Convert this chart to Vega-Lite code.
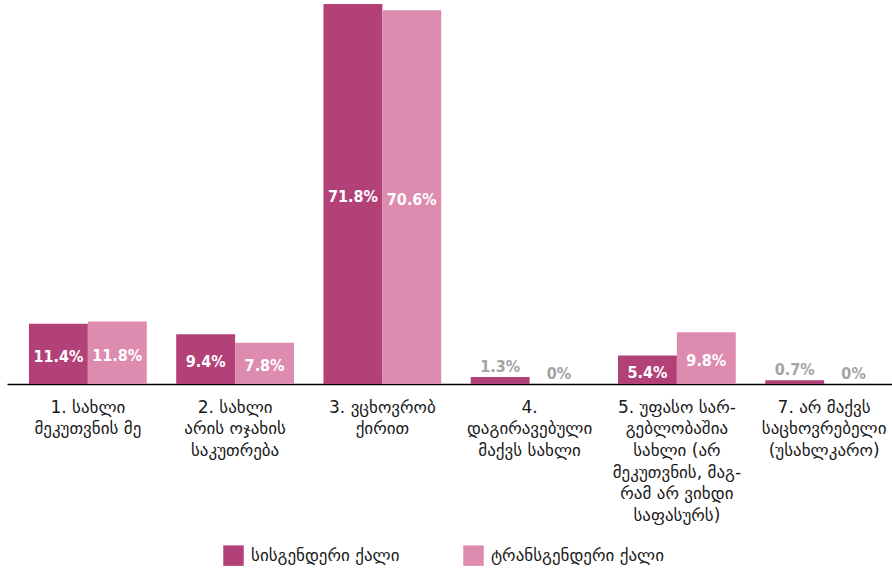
{
  "$schema": "https://vega.github.io/schema/vega-lite/v6.json",
  "width": 885,
  "height": 380,
  "autosize": {"type": "none"},
  "padding": {"left": 7, "top": 4, "right": 0, "bottom": 187},
  "background": "white",
  "config": {"view": {"stroke": null}},
  "data": {
    "values": [
      {"cat": "1. სახლი|მეკუთვნის მე", "group": "სისგენდერი ქალი", "value": 11.4},
      {"cat": "1. სახლი|მეკუთვნის მე", "group": "ტრანსგენდერი ქალი", "value": 11.8},
      {"cat": "2. სახლი|არის ოჯახის|საკუთრება", "group": "სისგენდერი ქალი", "value": 9.4},
      {"cat": "2. სახლი|არის ოჯახის|საკუთრება", "group": "ტრანსგენდერი ქალი", "value": 7.8},
      {"cat": "3. ვცხოვრობ|ქირით", "group": "სისგენდერი ქალი", "value": 71.8},
      {"cat": "3. ვცხოვრობ|ქირით", "group": "ტრანსგენდერი ქალი", "value": 70.6},
      {"cat": "4.|დაგირავებული|მაქვს სახლი", "group": "სისგენდერი ქალი", "value": 1.3},
      {"cat": "4.|დაგირავებული|მაქვს სახლი", "group": "ტრანსგენდერი ქალი", "value": 0},
      {"cat": "5. უფასო სარ-|გებლობაშია|სახლი (არ|მეკუთვნის, მაგ-|რამ არ ვიხდი|საფასურს)", "group": "სისგენდერი ქალი", "value": 5.4},
      {"cat": "5. უფასო სარ-|გებლობაშია|სახლი (არ|მეკუთვნის, მაგ-|რამ არ ვიხდი|საფასურს)", "group": "ტრანსგენდერი ქალი", "value": 9.8},
      {"cat": "7. არ მაქვს|საცხოვრებელი|(უსახლკარო)", "group": "სისგენდერი ქალი", "value": 0.7},
      {"cat": "7. არ მაქვს|საცხოვრებელი|(უსახლკარო)", "group": "ტრანსგენდერი ქალი", "value": 0}
    ]
  },
  "encoding": {
    "x": {
      "field": "cat",
      "type": "nominal",
      "sort": null,
      "scale": {"paddingInner": 0.2, "paddingOuter": 0.105, "align": 0.71},
      "axis": {
        "title": null,
        "labelExpr": "split(datum.label, '|')",
        "labelAngle": 0,
        "labelAlign": "center",
        "labelFont": "DejaVu Sans",
        "labelFontSize": 17,
        "labelColor": "#1a1a1a",
        "labelPadding": 15,
        "labelLineHeight": 21.7,
        "labelLimit": 0,
        "ticks": false,
        "domain": true,
        "domainColor": "#000000",
        "domainWidth": 1.5
      }
    },
    "xOffset": {
      "field": "group",
      "type": "nominal",
      "sort": ["სისგენდერი ქალი", "ტრანსგენდერი ქალი"],
      "scale": {"paddingInner": 0, "paddingOuter": 0}
    }
  },
  "layer": [
    {
      "mark": {"type": "bar"},
      "encoding": {
        "y": {"field": "value", "type": "quantitative", "scale": {"domain": [0, 71.8], "nice": false}, "axis": null},
        "color": {
          "field": "group",
          "type": "nominal",
          "sort": ["სისგენდერი ქალი", "ტრანსგენდერი ქალი"],
          "scale": {"domain": ["სისგენდერი ქალი", "ტრანსგენდერი ქალი"], "range": ["#b24178", "#de8bb0"]},
          "legend": {
            "title": null,
            "orient": "none",
            "direction": "horizontal",
            "legendX": 216,
            "legendY": 541,
            "symbolType": "square",
            "symbolSize": 420,
            "symbolStrokeWidth": 0,
            "symbolOpacity": 1,
            "labelFont": "DejaVu Sans",
            "labelFontSize": 17,
            "labelColor": "#1a1a1a",
            "labelOffset": 7,
            "columnPadding": 63,
            "labelLimit": 0
          }
        }
      }
    },
    {
      "transform": [
        {"filter": "datum.value >= 2"},
        {"calculate": "datum.value / 2", "as": "mid"},
        {"calculate": "datum.value + '%'", "as": "lbl"}
      ],
      "mark": {"type": "text", "color": "white", "font": "'DejaVu Sans Condensed', 'Liberation Sans', sans-serif", "fontWeight": "bold", "fontSize": 16, "baseline": "middle", "dy": 3},
      "encoding": {
        "y": {"field": "mid", "type": "quantitative", "scale": {"domain": [0, 71.8], "nice": false}},
        "text": {"field": "lbl"}
      }
    },
    {
      "transform": [
        {"filter": "datum.value < 2"},
        {"calculate": "datum.value + '%'", "as": "lbl"}
      ],
      "mark": {"type": "text", "color": "#a3a3a3", "font": "'DejaVu Sans Condensed', 'Liberation Sans', sans-serif", "fontWeight": "bold", "fontSize": 16, "baseline": "bottom", "dy": -2},
      "encoding": {
        "y": {"field": "value", "type": "quantitative", "scale": {"domain": [0, 71.8], "nice": false}},
        "text": {"field": "lbl"}
      }
    }
  ]
}
